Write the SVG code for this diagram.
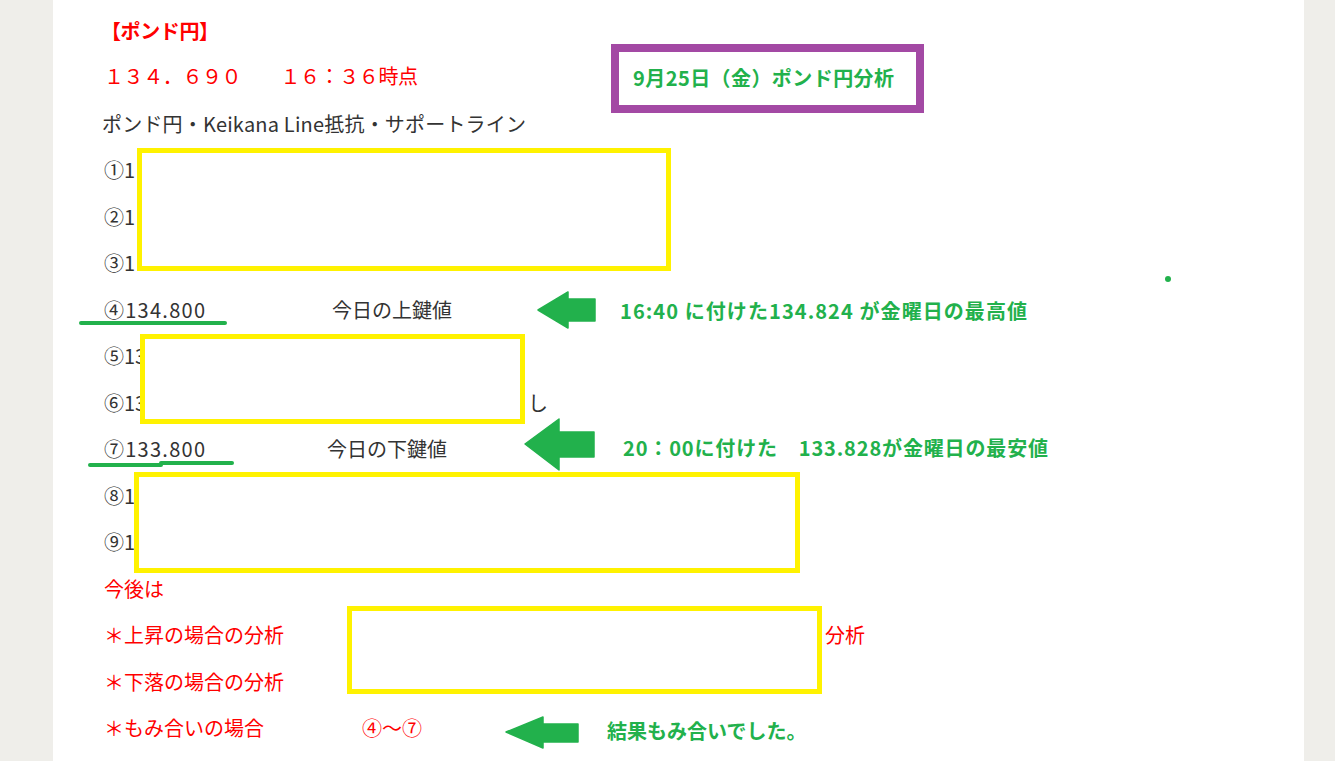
<svg xmlns="http://www.w3.org/2000/svg" width="1335" height="761" viewBox="0 0 1335 761">
<style>
text{font-family:"Noto Sans CJK JP","Noto Sans",sans-serif;font-size:20px}
.body{fill:#333333}
.red{fill:#ff0000}
.grn{fill:#22b14c;font-weight:bold}
.ybox{fill:#ffffff;stroke:#fff200;stroke-width:5}
.arrow{fill:#22b14c;stroke:#22b14c;stroke-width:1.5;stroke-linejoin:round}
.uline{stroke:#22b14c;stroke-width:4;stroke-linecap:round;fill:none}
</style>
<rect x="0" y="0" width="1335" height="761" fill="#efeeea"/>
<rect x="53" y="0" width="1251" height="761" fill="#ffffff"/>

<g id="header">
<text x="101" y="39" class="red" style="font-weight:bold;font-size:20px" textLength="118">【ポンド円】</text>
<text x="104" y="84" class="red" textLength="314">１３４．６９０　　１６：３６時点</text>
<text x="102" y="132" class="body" textLength="424">ポンド円・Keikana Line抵抗・サポートライン</text>
</g>

<g id="title">
<rect x="615" y="48" width="305" height="61" fill="#ffffff" stroke="#a349a4" stroke-width="8"/>
<text x="633" y="86" class="grn" textLength="261">9月25日（金）ポンド円分析</text>
</g>

<g id="lines">
<text x="104" y="178" class="body">①1</text>
<text x="104" y="225" class="body">②1</text>
<text x="104" y="271" class="body">③1</text>
<text x="104" y="318" class="body" textLength="101">④134.800</text>
<text x="332" y="318" class="body">今日の上鍵値</text>
<text x="104" y="364" class="body">⑤13</text>
<text x="104" y="411" class="body">⑥13</text>
<text x="528" y="411" class="body">し</text>
<text x="104" y="457" class="body" textLength="101">⑦133.800</text>
<text x="327" y="457" class="body">今日の下鍵値</text>
<text x="104" y="504" class="body">⑧1</text>
<text x="104" y="550" class="body">⑨1</text>
</g>

<g id="outlook">
<text x="104" y="597" class="red">今後は</text>
<text x="104" y="643" class="red">＊上昇の場合の分析</text>
<text x="825" y="643" class="red">分析</text>
<text x="104" y="690" class="red">＊下落の場合の分析</text>
<text x="104" y="736" class="red">＊もみ合いの場合</text>
<text x="362" y="736" class="red">④～⑦</text>
</g>

<g id="underlines">
<line x1="81" y1="323" x2="225" y2="323" class="uline"/>
<line x1="90" y1="465" x2="161" y2="465" class="uline"/>
<line x1="161" y1="463" x2="232" y2="463" class="uline"/>
</g>

<g id="masks">
<rect id="box1" x="139.5" y="150.5" width="529" height="118" class="ybox"/>
<rect id="box2" x="142.5" y="336.5" width="380" height="85" class="ybox"/>
<rect id="box3" x="136.5" y="474.5" width="661" height="96" class="ybox"/>
<rect id="box4" x="349.5" y="608.5" width="470" height="83" class="ybox"/>
</g>

<g id="connectors">
<polygon class="arrow" points="538,310 568,292 568,299 595,299 595,321 568,321 568,328"/>
<polygon class="arrow" points="525,444 559,419 559,432 594,432 594,457 559,457 559,470"/>
<polygon class="arrow" points="506,732 543,717 543,724 578,724 578,742 543,742 543,748"/>
</g>

<g id="notes">
<text x="620" y="319" class="grn" textLength="407">16:40 に付けた134.824 が金曜日の最高値</text>
<text x="623" y="456" class="grn" textLength="425">20：00に付けた　133.828が金曜日の最安値</text>
<text x="607" y="739" class="grn">結果もみ合いでした。</text>
<circle cx="1168" cy="279" r="3" fill="#22b14c"/>
</g>
</svg>
